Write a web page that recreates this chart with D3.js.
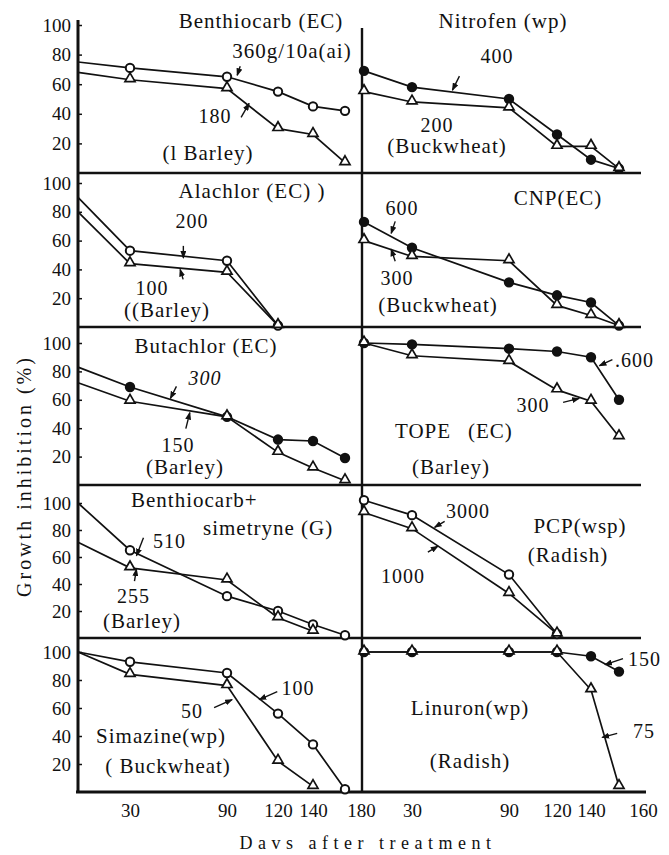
<!DOCTYPE html>
<html>
<head>
<meta charset="utf-8">
<script src="https://cdn.jsdelivr.net/npm/d3@7"></script>
<style>
  html, body { margin: 0; padding: 0; background: #fff; }
  svg { display: block; }
  text { font-family: "Liberation Serif", "Times New Roman", serif; fill: #111; }
</style>
</head>
<body>
<svg id="chart" width="669" height="855"></svg>
<script>
// Sampling days and axis ticks
const days = [0, 30, 90, 120, 140, 150];
const leftTicks = [30, 90, 120, 140, 180];
const rightTicks = [30, 90, 120, 140, 160];
const yTicks = [20, 40, 60, 80, 100];

// Growth inhibition (%) on each sampling day, per herbicide and dose
const benthiocarb360 = [75, 71, 65, 55, 45, 42];
const benthiocarb180 = [68, 63, 57, 30, 26, 7];
const nitrofen400 = [69, 58, 50, 26, 9, 3];
const nitrofen200 = [55, 48, 44, 18, 18, 3];
const alachlor200 = [90, 53, 46, 1];
const alachlor100 = [80, 44, 38, 1];
const cnp600 = [73, 55, 31, 22, 17, 1];
const cnp300 = [60, 49, 46, 15, 8, 1];
const butachlor300 = [83, 69, 48, 32, 31, 19];
const butachlor150 = [72, 59, 48, 23, 12, 3];
const tope600 = [100, 99, 96, 94, 90, 60];
const tope300 = [100, 91, 87, 67, 59, 34];
const benSim510 = [100, 65, 31, 20, 10, 2];
const benSim255 = [71, 52, 43, 15, 5];
const pcp3000 = [102, 91, 47, 3];
const pcp1000 = [93, 81, 33, 3];
const simazine100 = [100, 93, 85, 56, 34, 2];
const simazine50 = [100, 84, 76, 22, 4];
const linuron150 = [100, 100, 100, 100, 97, 86];
const linuron75 = [100, 100, 100, 100, 73, 4];

const svg = d3.select("#chart");
const ink = "#111";
const serif = "Liberation Serif";

// Frame geometry
const rowBottom = [173, 327, 485, 638, 792];
const rowY100 = [25, 183, 343, 503, 652];
const yScales = rowBottom.map((b, i) => d3.scaleLinear().domain([0, 100]).range([b, rowY100[i]]));
const xLeft = d3.scaleLinear().domain([0, 30, 90, 120, 140, 150, 180]).range([78, 130, 227, 278, 313, 345, 361]);
const xRight = d3.scaleLinear().domain([0, 30, 90, 120, 140, 150, 160]).range([364, 412, 509, 557, 591, 619, 643]);

// Panels: row, column, high-dose series, low-dose series, high-dose marker filled?
const panels = [
  { row: 0, col: 0, hi: benthiocarb360, lo: benthiocarb180, filled: false },
  { row: 0, col: 1, hi: nitrofen400, lo: nitrofen200, filled: true },
  { row: 1, col: 0, hi: alachlor200, lo: alachlor100, filled: false },
  { row: 1, col: 1, hi: cnp600, lo: cnp300, filled: true },
  { row: 2, col: 0, hi: butachlor300, lo: butachlor150, filled: true },
  { row: 2, col: 1, hi: tope600, lo: tope300, filled: true },
  { row: 3, col: 0, hi: benSim510, lo: benSim255, filled: false },
  { row: 3, col: 1, hi: pcp3000, lo: pcp1000, filled: false },
  { row: 4, col: 0, hi: simazine100, lo: simazine50, filled: false },
  { row: 4, col: 1, hi: linuron150, lo: linuron75, filled: true }
];

// Frame lines
const frame = svg.append("g").attr("stroke", ink).attr("fill", "none");
frame.append("line").attr("x1", 78).attr("x2", 78).attr("y1", 20).attr("y2", 793).attr("stroke-width", 3);
frame.append("line").attr("x1", 362).attr("x2", 362).attr("y1", 28).attr("y2", 793).attr("stroke-width", 2.4);
rowBottom.slice(0, 4).forEach(b => {
  frame.append("line").attr("x1", 78).attr("x2", 641).attr("y1", b).attr("y2", b).attr("stroke-width", 2.4);
});
frame.append("line").attr("x1", 76).attr("x2", 646).attr("y1", 792).attr("y2", 792).attr("stroke-width", 3);

// Y axes, one per row
yScales.forEach(y => {
  const ax = svg.append("g").attr("transform", "translate(78,0)")
    .attr("font-family", serif)
    .call(d3.axisLeft(y).tickValues(yTicks).tickSize(-4).tickPadding(7).tickFormat(d3.format("d")));
  ax.select(".domain").remove();
  ax.selectAll("line").attr("stroke", ink).attr("stroke-width", 1.5);
  ax.selectAll("text").attr("font-size", 19).attr("font-family", serif).attr("fill", ink);
});

// X axes along the bottom
[[xLeft, leftTicks], [xRight, rightTicks]].forEach(([x, t]) => {
  const ax = svg.append("g").attr("transform", "translate(0,792)")
    .attr("font-family", serif)
    .call(d3.axisBottom(x).tickValues(t).tickSize(0).tickPadding(12).tickFormat(d3.format("d")));
  ax.select(".domain").remove();
  ax.selectAll("text").attr("font-size", 19).attr("font-family", serif).attr("fill", ink);
});

// Axis titles
svg.append("text").attr("x", 368).attr("y", 849).attr("text-anchor", "middle")
  .attr("font-size", 18).attr("letter-spacing", 5.5).text("Davs after treatment");
svg.append("text").attr("transform", "translate(31,476) rotate(-90)").attr("text-anchor", "middle")
  .attr("font-size", 20).attr("letter-spacing", 3).text("Growth inhibition (%)");

// Series lines and markers
const triangle = d3.symbol().type(d3.symbolTriangle).size(44);
panels.forEach(p => {
  const x = p.col === 0 ? xLeft : xRight;
  const y = yScales[p.row];
  const g = svg.append("g");
  [["hi", p.hi], ["lo", p.lo]].forEach(([kind, vals]) => {
    const pts = vals.map((v, i) => ({ day: days[i], v }));
    g.append("path").datum(pts)
      .attr("fill", "none").attr("stroke", ink).attr("stroke-width", 1.7)
      .attr("d", d3.line().x(d => x(d.day)).y(d => y(d.v)));
    const shown = p.col === 0 ? pts.slice(1) : pts;
    if (kind === "hi") {
      g.selectAll(null).data(shown).enter().append("circle")
        .attr("cx", d => x(d.day)).attr("cy", d => y(d.v)).attr("r", 4.2)
        .attr("fill", p.filled ? ink : "#fff").attr("stroke", ink).attr("stroke-width", 2);
    } else {
      g.selectAll(null).data(shown).enter().append("path")
        .attr("d", triangle)
        .attr("transform", d => `translate(${x(d.day)},${y(d.v) - 1})`)
        .attr("fill", "#fff").attr("stroke", ink).attr("stroke-width", 1.7);
    }
  });
});

// Leader arrows: panel index, day, value at tip, tail dx, tail dy
const arrows = [
  [0, 103, 47, -8, 14], [0, 96, 66, 3, -9],
  [1, 55, 56, 7, -14],
  [2, 63, 48, 0, -12], [2, 61, 40, 3, 10],
  [3, 17, 65, 4, -12], [3, 17, 54, 4, 12],
  [4, 55, 61, 6, -12], [4, 67, 51, -4, 16],
  [5, 143, 84, 13, -6], [5, 133, 61, -16, 4],
  [6, 34, 61, 7, -18], [6, 34, 51, -2, 12],
  [7, 44, 82, 10, -6], [7, 46, 68, -10, 6],
  [8, 109, 66, 18, -8], [8, 93, 66, -18, 8],
  [9, 145, 91, 18, -6], [9, 144, 39, 15, -4]
];
svg.append("defs").append("marker").attr("id", "head")
  .attr("viewBox", "0 0 8 6").attr("refX", 7).attr("refY", 3)
  .attr("markerWidth", 8).attr("markerHeight", 6).attr("markerUnits", "userSpaceOnUse")
  .attr("orient", "auto")
  .append("path").attr("d", "M0,0 L8,3 L0,6 Z").attr("fill", ink);
arrows.forEach(([pi, day, v, dx, dy]) => {
  const p = panels[pi];
  const tx = (p.col === 0 ? xLeft : xRight)(day);
  const ty = yScales[p.row](v);
  svg.append("line").attr("x1", tx + dx).attr("y1", ty + dy).attr("x2", tx).attr("y2", ty)
    .attr("stroke", ink).attr("stroke-width", 1.4).attr("marker-end", "url(#head)");
});

// Panel titles, doses and test plants: text, x, baseline, anchor, size, italic
const labels = [
  ["Benthiocarb (EC)", 261, 28, "middle", 21],
  ["360g/10a(ai)", 292, 58, "middle", 21],
  ["180", 215, 123, "middle", 20],
  ["(l Barley)", 208, 160, "middle", 21],
  ["Nitrofen (wp)", 503, 28, "middle", 21],
  ["400", 497, 63, "middle", 20],
  ["200", 437, 132, "middle", 20],
  ["(Buckwheat)", 447, 153, "middle", 21],
  ["Alachlor (EC) )", 252, 198, "middle", 21],
  ["200", 192, 228, "middle", 20],
  ["100", 152, 295, "middle", 20],
  ["((Barley)", 167, 317, "middle", 21],
  ["CNP(EC)", 558, 205, "middle", 21],
  ["600", 402, 215, "middle", 20],
  ["300", 397, 285, "middle", 20],
  ["(Buckwheat)", 438, 312, "middle", 21],
  ["Butachlor (EC)", 206, 353, "middle", 21],
  ["300", 205, 385, "middle", 20, true],
  ["150", 178, 452, "middle", 20],
  ["(Barley)", 185, 474, "middle", 21],
  [".600", 615, 367, "start", 20],
  ["300", 533, 412, "middle", 20],
  ["TOPE", 395, 438, "start", 21],
  ["(EC)", 468, 438, "start", 21],
  ["(Barley)", 451, 474, "middle", 21],
  ["Benthiocarb+", 131, 507, "start", 21],
  ["simetryne (G)", 203, 535, "start", 21],
  ["510", 153, 548, "start", 20],
  ["255", 117, 603, "start", 20],
  ["(Barley)", 103, 628, "start", 21],
  ["3000", 468, 518, "middle", 20],
  ["PCP(wsp)", 580, 533, "middle", 21],
  ["(Radish)", 568, 562, "middle", 21],
  ["1000", 403, 583, "middle", 20],
  ["100", 298, 695, "middle", 20],
  ["50", 192, 718, "middle", 20],
  ["Simazine(wp)", 161, 743, "middle", 21],
  ["( Buckwheat)", 168, 773, "middle", 21],
  ["150", 628, 666, "start", 20],
  ["75", 633, 738, "start", 20],
  ["Linuron(wp)", 470, 715, "middle", 21],
  ["(Radish)", 470, 768, "middle", 21]
];
svg.append("g").selectAll("text").data(labels).enter().append("text")
  .attr("x", d => d[1]).attr("y", d => d[2])
  .attr("text-anchor", d => d[3]).attr("font-size", d => d[4])
  .attr("letter-spacing", 1)
  .attr("font-style", d => d[5] ? "italic" : "normal")
  .text(d => d[0]);
</script>
</body>
</html>
